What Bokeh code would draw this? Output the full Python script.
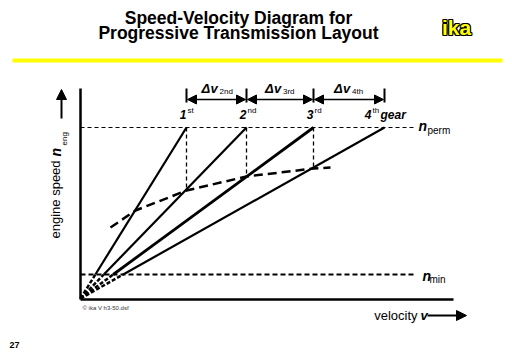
from bokeh.plotting import figure
from bokeh.models import Range1d, Arrow, NormalHead, ColumnDataSource
from bokeh.embed import file_html
from bokeh.resources import INLINE
from bokeh.core.properties import value
import math

# ---- data (diagram units: velocity v, engine speed n) ----
gear_numbers = ["1", "2", "3", "4"]
gear_suffixes = ["st", "nd", "rd", "th"]
v_at_nperm = [106, 166, 233, 304]      # velocity reached in each gear at n_perm
n_perm = 171
n_min = 24
v_axis_max = 373
n_axis_max = 210
shift_v = [30, 55, 106, 166, 233, 250]  # dashed shift curve
shift_n = [71, 88, 108, 122, 130, 131]
delta_subs = ["2nd", "3rd", "4th"]
n_delta = 199

FONT = value("Liberation Sans")

p = figure(width=512, height=354, x_range=Range1d(-80, 432), y_range=Range1d(-56, 298),
           output_backend="svg", toolbar_location=None, min_border=0,
           x_axis_location=None, y_axis_location=None)
p.grid.visible = False
p.outline_line_color = None
p.background_fill_color = "white"
p.border_fill_color = "white"

def txt(x, y, s, size, style="normal", align="left", baseline="middle", color="black", angle=0, **kw):
    p.text(x=[x], y=[y], text=[s], text_font=FONT, text_font_size=f"{size}px",
           text_font_style=style, text_align=align, text_baseline=baseline,
           text_color=color, angle=angle, **kw)

# ---- header ----
txt(158, 281, "Speed-Velocity Diagram for", 17.5, "bold", "center")
txt(158, 265.5, "Progressive Transmission Layout", 17.5, "bold", "center")
offs = [(-1, -1), (-1, 0), (-1, 1), (0, -1), (0, 1), (1, -1), (1, 0), (1, 1)]
src = ColumnDataSource(dict(x=[376] * 8, y=[271] * 8, xo=[o[0] for o in offs], yo=[o[1] for o in offs],
                            t=["ika"] * 8))
p.text(x="x", y="y", text="t", x_offset="xo", y_offset="yo", source=src, text_font=FONT,
       text_font_size="21px", text_font_style="bold", text_align="center", text_baseline="middle",
       text_color="black")
txt(376, 271, "ika", 21, "bold", "center", color="#FFFF00")
p.line([-68, 422], [238, 238], line_width=4, line_color="#FFFF00")

# ---- axes ----
p.line([0, 0], [-1, n_axis_max], line_width=2.5, line_color="black")
p.line([0, v_axis_max], [-1, -1], line_width=2.5, line_color="black")

# ---- reference speed lines ----
p.line([0, 335], [n_perm, n_perm], line_width=1, line_dash="4 3", line_color="black")
p.line([0, 335], [n_min, n_min], line_width=2, line_dash="5 3", line_color="black")

# ---- gear lines ----
for i, v in enumerate(v_at_nperm):
    v_lo = v * n_min / n_perm
    p.line([0, v_lo], [0, n_min], line_width=2.5, line_dash="4 2", line_color="black")
    p.line([v_lo, v], [n_min, n_perm], line_width=2.2 if i != 2 else 2.8, line_color="black")

# ---- shift curve ----
p.line(shift_v, shift_n, line_width=2.5, line_dash="9 5", line_color="black")

# ---- verticals from n_perm down to next gear ----
for i in range(3):
    v = v_at_nperm[i]
    n_end = n_perm * v / v_at_nperm[i + 1]
    p.line([v, v], [n_perm, n_end], line_width=1.3, line_dash="4 3", line_color="black")

# ---- delta-v dimension arrows ----
p.segment(x0=v_at_nperm, y0=[196] * 4, x1=v_at_nperm, y1=[210] * 4, line_width=2, line_color="black")
for i in range(3):
    a, b = v_at_nperm[i], v_at_nperm[i + 1]
    p.add_layout(Arrow(start=NormalHead(size=9, fill_color="black", line_color="black"),
                       end=NormalHead(size=9, fill_color="black", line_color="black"),
                       x_start=a + 1, y_start=n_delta, x_end=b - 1, y_end=n_delta,
                       line_width=1.5, line_color="black"))
    mid = (a + b) / 2
    txt(mid - 15, 210, "\u0394", 13, "bold italic")
    txt(mid - 6, 210, "v", 13, "bold italic")
    txt(mid + 3, 207, delta_subs[i], 8)

# ---- gear labels ----
for i, v in enumerate(v_at_nperm):
    if i < 3:
        txt(v, 184, gear_numbers[i], 12, "bold italic", "right")
        txt(v + 1, 188, gear_suffixes[i], 8)
    else:
        txt(v - 13, 184, gear_numbers[i], 12, "bold italic", "right")
        txt(v - 12, 188, gear_suffixes[i], 8)
        txt(v - 4, 184, "gear", 12, "bold italic")

txt(338, 173, "n", 14, "bold italic")
txt(347, 168, "perm", 10)
txt(342, 23, "n", 14, "bold italic")
txt(349, 19, "min", 10)

# ---- axis titles ----
txt(337, -17, "velocity", 13, align="right")
txt(340, -17, "v", 13, "bold italic")
p.add_layout(Arrow(end=NormalHead(size=10, fill_color="black", line_color="black"),
                   x_start=347, y_start=-17, x_end=386, y_end=-17, line_width=2, line_color="black"))

txt(-25, 60, "engine speed", 13, angle=math.pi / 2)
txt(-25, 142, "n", 14, "bold italic", angle=math.pi / 2)
txt(-16, 153, "eng", 8, angle=math.pi / 2)
p.add_layout(Arrow(end=NormalHead(size=10, fill_color="black", line_color="black"),
                   x_start=-19, y_start=180, x_end=-19, y_end=209, line_width=2, line_color="black"))

# ---- footer ----
txt(2, -9, "\u00a9 ika V h3-50.dsf", 6, color="#333333")
txt(-71, -46, "27", 9, "bold")

open("out.html", "w").write(file_html(p, INLINE))
